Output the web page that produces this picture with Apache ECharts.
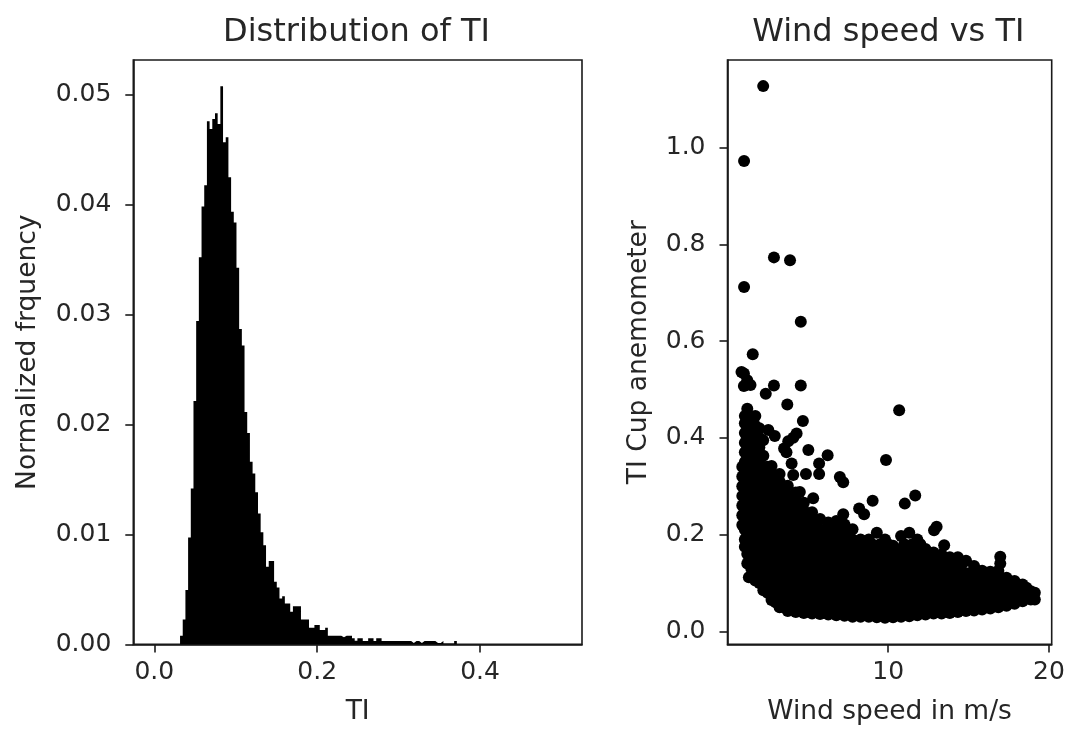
<!DOCTYPE html>
<html><head><meta charset="utf-8">
<style>html,body{margin:0;padding:0;background:#fff}#c{width:1067px;height:731px;filter:blur(0.6px)}</style>
<script src="https://cdn.jsdelivr.net/npm/echarts@6/dist/echarts.min.js"></script>
</head><body><div id="c"></div>
<script>
// Histogram: left edge of first bin, bin width, normalized frequency per bin
const binStart = 0.0316;
const binWidth = 0.0033;
const binFrequency = [
0.00079,0.00227,0.00494,0.00973,0.01418,0.02215,0.02942,0.03524,0.03985,0.04179,
0.04761,0.04691,0.04782,0.04833,0.04736,0.05079,0.04570,0.04615,0.04252,0.03936,
0.03839,0.03427,0.02870,0.02721,0.02115,0.01924,0.01661,0.01555,0.01385,0.01191,
0.01021,0.00903,0.00706,0.00758,0.00758,0.00570,0.00518,0.00418,0.00439,0.00373,
0.00373,0.00297,0.00348,0.00348,0.00348,0.00227,0.00227,0.00227,0.00152,0.00152,
0.00176,0.00176,0.00130,0.00130,0.00152,0.00079,0.00079,0.00079,0.00079,0.00079,
0.00064,0.00079,0.00079,0.00079,0.00055,0.00033,0.00055,0.00055,0.00030,0.00030,
0.00055,0.00055,0.00030,0.00055,0.00055,0.00030,0.00030,0.00030,0.00030,0.00030,
0.00030,0.00030,0.00030,0.00030,0.00030,0.00030,0.00012,0.00030,0.00030,0.00012,
0.00030,0.00030,0.00030,0.00030,0.00030,0.00012,0.00012,0.00030,0.00008,0.00008,
0.00008,0.00008,0.00030];

// Scatter: isolated points
const outlierWind = [2.22,1.03,2.89,3.89,1.03,4.56,1.57,0.87,1.02,1.23,1.02,1.43,2.89,4.56,2.38,3.72,4.69,10.68,9.86,5.03,6.23,5.70,5.70,4.88,6.99,7.20,9.03,8.19,8.50,11.68,11.03,13.01,12.85,13.48,16.97,16.97,4.30,4.09,3.78,3.52,3.67,2.54,2.94,2.22,3.99,4.09,5.33,7.20,4.50,1.33];
const outlierTI   = [1.127,0.972,0.773,0.767,0.712,0.640,0.573,0.536,0.533,0.519,0.507,0.509,0.508,0.508,0.491,0.469,0.435,0.457,0.354,0.375,0.364,0.347,0.325,0.325,0.319,0.308,0.270,0.254,0.242,0.281,0.264,0.216,0.209,0.178,0.154,0.140,0.409,0.400,0.393,0.378,0.370,0.416,0.404,0.395,0.347,0.323,0.275,0.242,0.288,0.112];

// Scatter: the dense cloud, read column by column
const cloudWind = [0.92,1.08,1.23,1.73,2.23,2.74,3.24,3.75,4.25,4.75,5.26,5.76,6.27,6.77,7.28,7.78,8.28,8.79,9.29,9.80,10.30,10.80,11.31,11.81,12.32,12.82,13.32,13.83,14.33,14.84,15.34,15.84,16.35,16.85,17.36,17.86,18.36,18.87,19.12];
const cloudTI = [
[0.22,0.24,0.26,0.28,0.30,0.32,0.34],
[0.175,0.19,0.21,0.23,0.25,0.27,0.29,0.31,0.33,0.35,0.37,0.39,0.41,0.43,0.445],
[0.14,0.16,0.18,0.20,0.22,0.24,0.26,0.28,0.30,0.32,0.34,0.36,0.38,0.40,0.42,0.44,0.46],
[0.105,0.125,0.145,0.165,0.185,0.205,0.225,0.245,0.265,0.285,0.305,0.325,0.345,0.365,0.385,0.405,0.425,0.445],
[0.085,0.10,0.12,0.14,0.16,0.18,0.20,0.22,0.24,0.26,0.28,0.30,0.32,0.34,0.363],
[0.065,0.085,0.105,0.125,0.145,0.165,0.185,0.205,0.225,0.245,0.265,0.285,0.305,0.325,0.342],
[0.05,0.07,0.09,0.11,0.13,0.15,0.17,0.19,0.21,0.23,0.25,0.27,0.29,0.31,0.325],
[0.042,0.06,0.08,0.10,0.12,0.14,0.16,0.18,0.20,0.22,0.24,0.26,0.28,0.301],
[0.04,0.055,0.075,0.095,0.115,0.135,0.155,0.175,0.195,0.215,0.235,0.255,0.275,0.287],
[0.038,0.05,0.07,0.09,0.11,0.13,0.15,0.17,0.19,0.21,0.23,0.25,0.266],
[0.037,0.055,0.075,0.095,0.115,0.135,0.155,0.175,0.195,0.215,0.235,0.246],
[0.036,0.05,0.07,0.09,0.11,0.13,0.15,0.17,0.19,0.21,0.232],
[0.035,0.055,0.075,0.095,0.115,0.135,0.155,0.175,0.195,0.215,0.225],
[0.033,0.05,0.07,0.09,0.11,0.13,0.15,0.17,0.19,0.21,0.228],
[0.032,0.055,0.075,0.095,0.115,0.135,0.155,0.175,0.195,0.221],
[0.03,0.05,0.07,0.09,0.11,0.13,0.15,0.17,0.19,0.211],
[0.03,0.055,0.075,0.095,0.115,0.135,0.155,0.175,0.19],
[0.03,0.05,0.07,0.09,0.11,0.13,0.15,0.17,0.19],
[0.029,0.055,0.075,0.095,0.115,0.135,0.155,0.175,0.204],
[0.028,0.05,0.07,0.09,0.11,0.13,0.15,0.17,0.19],
[0.029,0.055,0.075,0.095,0.115,0.135,0.155,0.177],
[0.03,0.05,0.07,0.09,0.11,0.13,0.15,0.17,0.197],
[0.031,0.055,0.075,0.095,0.115,0.135,0.155,0.175,0.204],
[0.033,0.05,0.07,0.09,0.11,0.13,0.15,0.17,0.19],
[0.035,0.055,0.075,0.095,0.115,0.135,0.155,0.17],
[0.037,0.05,0.07,0.09,0.11,0.13,0.15,0.163],
[0.037,0.055,0.075,0.095,0.115,0.135,0.159],
[0.038,0.05,0.07,0.09,0.11,0.13,0.153],
[0.04,0.055,0.075,0.095,0.115,0.135,0.153],
[0.042,0.06,0.08,0.10,0.12,0.146],
[0.043,0.06,0.08,0.10,0.12,0.135],
[0.045,0.065,0.085,0.105,0.125],
[0.047,0.065,0.085,0.105,0.123],
[0.05,0.07,0.09,0.11,0.125],
[0.053,0.07,0.09,0.111],
[0.057,0.075,0.09,0.104],
[0.062,0.08,0.097],
[0.066,0.083],
[0.066,0.08]
];

// Scatter: further points of the cloud, lying between those columns
const innerWind = [1.48,1.98,2.49,2.99,3.5,4,4.5,5,5.5,6,6.5,7,7.5,8,8.5,9,9.5,10,10.5,11,11.5,12,12.5,13,13.6,14.1,14.6,15.1,15.6,16.1,16.6,17.1,17.6,18.1,18.6,19];
const innerTI = [
[0.13,0.15,0.17,0.19,0.21,0.23,0.25,0.27,0.29,0.31,0.33,0.35,0.37,0.39,0.41,0.43],
[0.10,0.12,0.14,0.16,0.18,0.20,0.22,0.24,0.26,0.28,0.30,0.32,0.34,0.36,0.38,0.40,0.42],
[0.08,0.10,0.12,0.14,0.16,0.18,0.20,0.22,0.24,0.26,0.28,0.30,0.32,0.34],
[0.06,0.08,0.10,0.12,0.14,0.16,0.18,0.20,0.22,0.24,0.26,0.28,0.30,0.32],
[0.05,0.07,0.08,0.10,0.12,0.14,0.16,0.18,0.20,0.22,0.24,0.26,0.28,0.30],
[0.05,0.06,0.08,0.10,0.12,0.14,0.16,0.18,0.20,0.22,0.24,0.26,0.28],
[0.05,0.06,0.08,0.10,0.12,0.14,0.16,0.18,0.20,0.22,0.24,0.26],
[0.05,0.06,0.08,0.10,0.12,0.14,0.16,0.18,0.20,0.22,0.24],
[0.05,0.06,0.08,0.10,0.12,0.14,0.16,0.18,0.20,0.22,0.23],
[0.05,0.06,0.08,0.10,0.12,0.14,0.16,0.18,0.20,0.21],
[0.05,0.06,0.08,0.10,0.12,0.14,0.16,0.18,0.20,0.21],
[0.04,0.06,0.08,0.10,0.12,0.14,0.16,0.18,0.20,0.21],
[0.04,0.06,0.08,0.10,0.12,0.14,0.16,0.18,0.20],
[0.04,0.06,0.08,0.10,0.12,0.14,0.16,0.18],
[0.04,0.06,0.08,0.10,0.12,0.14,0.16,0.18],
[0.04,0.06,0.08,0.10,0.12,0.14,0.16,0.18],
[0.04,0.06,0.08,0.10,0.12,0.14,0.16,0.18],
[0.04,0.06,0.08,0.10,0.12,0.14,0.16,0.18],
[0.04,0.06,0.08,0.10,0.12,0.14,0.16],
[0.04,0.06,0.08,0.10,0.12,0.14,0.16,0.18],
[0.04,0.06,0.08,0.10,0.12,0.14,0.16,0.18],
[0.04,0.06,0.08,0.10,0.12,0.14,0.16,0.18],
[0.04,0.06,0.08,0.10,0.12,0.14,0.16],
[0.04,0.06,0.08,0.10,0.12,0.14],
[0.05,0.06,0.08,0.10,0.12,0.14],
[0.05,0.06,0.08,0.10,0.12,0.14],
[0.05,0.06,0.08,0.10,0.12,0.14],
[0.05,0.06,0.08,0.10,0.12],
[0.05,0.06,0.08,0.10,0.12],
[0.06,0.08,0.10,0.12],
[0.06,0.08,0.10],
[0.06,0.08,0.10],
[0.06,0.08,0.10],
[0.07,0.09],
[0.07,0.09],
[0.07]
];

// Tick labels
const histXTicks = [0.0,0.2,0.4];
const histYTicks = [0.00,0.01,0.02,0.03,0.04,0.05];
const scatXTicks = [10,20];
const scatYTicks = [0.0,0.2,0.4,0.6,0.8,1.0];

const histData = binFrequency.map((v,i)=>[binStart+binWidth*i,v]);
histData.push([binStart+binWidth*binFrequency.length,0]);
const scatData = [];
outlierWind.forEach((w,i)=>scatData.push([w,outlierTI[i]]));
cloudWind.forEach((w,i)=>cloudTI[i].forEach(t=>scatData.push([w,t])));
innerWind.forEach((w,i)=>innerTI[i].forEach(t=>scatData.push([w,t])));

const FONT='"DejaVu Sans"', INK='#262626', LINE='#1a1a1a';
function axis(o){
  return Object.assign({
    type:'value',scale:false,splitLine:{show:false},
    nameLocation:'middle',
    nameTextStyle:{fontFamily:FONT,fontSize:26.5,color:INK},
    axisLine:{show:true,onZero:false,lineStyle:{color:LINE,width:1.6}},
    axisTick:{show:true,length:8,inside:false,lineStyle:{color:LINE,width:1.6},customValues:o.ticks},
    axisLabel:{show:true,fontFamily:FONT,fontSize:25,color:INK,margin:o.lm,customValues:o.ticks,
      formatter:v=>v.toFixed(o.dec)},
  },o);
}
const chart=echarts.init(document.getElementById('c'),null,{renderer:'canvas'});
chart.setOption({
  animation:false,backgroundColor:'#fff',
  title:[
    {text:'Distribution of TI',left:356.5,top:17,padding:0,textAlign:'center',textStyle:{fontFamily:FONT,fontSize:32,fontWeight:'normal',color:INK}},
    {text:'Wind speed vs TI',left:888.3,top:17,padding:0,textAlign:'center',textStyle:{fontFamily:FONT,fontSize:32,fontWeight:'normal',color:INK}}
  ],
  grid:[
    {left:133.3,top:60,width:448.7,height:584.4,outerBoundsMode:'none',show:true,borderColor:LINE,borderWidth:1.6,backgroundColor:'#fff'},
    {left:727.5,top:60,width:324.2,height:584.4,outerBoundsMode:'none',show:true,borderColor:LINE,borderWidth:1.6,backgroundColor:'#fff'}
  ],
  xAxis:[
    axis({gridIndex:0,min:-0.0258,max:0.5252,ticks:histXTicks,dec:1,lm:16,name:'TI',nameGap:54}),
    axis({gridIndex:1,min:0.0,max:20.17,ticks:scatXTicks,dec:0,lm:16,name:'Wind speed in m/s',nameGap:54})
  ],
  yAxis:[
    axis({gridIndex:0,min:0,max:0.05318,ticks:histYTicks,dec:2,lm:22,name:'Normalized frquency',nameGap:92}),
    axis({gridIndex:1,min:-0.027,max:1.181,ticks:scatYTicks,dec:1,lm:22,name:'TI Cup anemometer',nameGap:75})
  ],
  series:[
    {type:'line',step:'end',xAxisIndex:0,yAxisIndex:0,data:histData,showSymbol:false,symbol:'none',
     lineStyle:{width:0},areaStyle:{color:'#000',opacity:1,origin:'start'},silent:true},
    {type:'scatter',xAxisIndex:1,yAxisIndex:1,data:scatData,symbol:'circle',symbolSize:12,
     itemStyle:{color:'#000',opacity:1},silent:true,large:false}
  ]
});
</script></body></html>
